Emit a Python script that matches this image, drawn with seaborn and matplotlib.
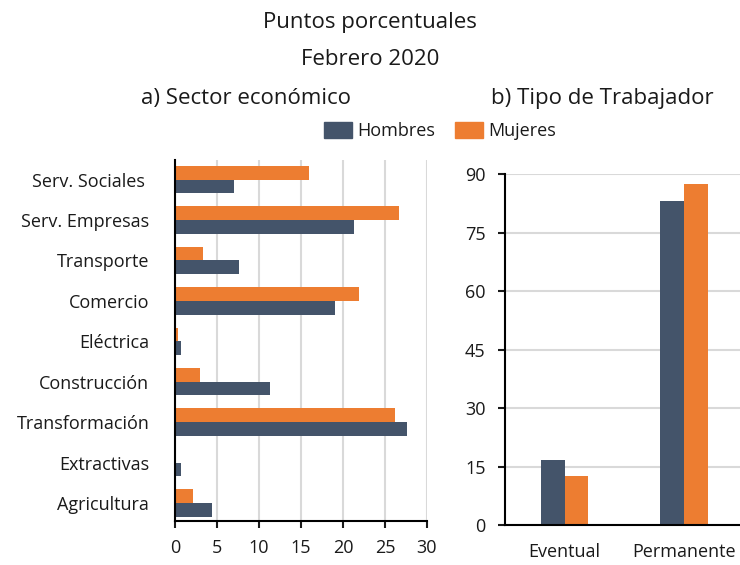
import pandas as pd
import numpy as np
import matplotlib.pyplot as plt
import seaborn as sns

# data
sectores = ['Serv. Sociales', 'Serv. Empresas', 'Transporte', 'Comercio', 'Eléctrica',
            'Construcción', 'Transformación', 'Extractivas', 'Agricultura']
sector_hombres = [7.0, 21.3, 7.6, 19.0, 0.7, 11.3, 27.6, 0.7, 4.4]
sector_mujeres = [15.9, 26.7, 3.3, 21.9, 0.4, 3.0, 26.2, 0.05, 2.2]

tipos = ['Eventual', 'Permanente']
tipo_hombres = [16.6, 83.2]
tipo_mujeres = [12.5, 87.4]

colores = {'Hombres': '#44546A', 'Mujeres': '#ED7D31'}

df_sec = pd.DataFrame({'Sector': sectores * 2,
                       'Valor': sector_hombres + sector_mujeres,
                       'Sexo': ['Hombres'] * len(sectores) + ['Mujeres'] * len(sectores)})
df_tipo = pd.DataFrame({'Tipo': tipos * 2,
                        'Valor': tipo_hombres + tipo_mujeres,
                        'Sexo': ['Hombres'] * len(tipos) + ['Mujeres'] * len(tipos)})

sns.set_style('white')
plt.rcParams['font.family'] = ['Open Sans', 'DejaVu Sans']
plt.rcParams['text.color'] = '#1a1a1a'

fig = plt.figure(figsize=(7.4, 5.65), dpi=100)
ax1 = fig.add_axes([0.2365, 0.0775, 0.3405, 0.639])
ax2 = fig.add_axes([0.6824, 0.0705, 0.3176, 0.621])

# a) sector economico
sns.barplot(data=df_sec, y='Sector', x='Valor', hue='Sexo', hue_order=['Mujeres', 'Hombres'],
            order=sectores, palette=colores, orient='h', width=0.68, saturation=1,
            linewidth=0, ax=ax1, legend=False)
ax1.set_xlim(0, 30)
ax1.set_xticks(range(0, 31, 5))
ax1.set_ylim(8.45, -0.48)
ax1.set_yticks(range(len(sectores)))
ax1.set_yticklabels([s + ' ' if s == 'Serv. Sociales' else s for s in sectores])
ax1.set_xlabel('')
ax1.set_ylabel('')
ax1.grid(axis='x', color='#d9d9d9', linewidth=1.5)
ax1.set_axisbelow(True)
for s in ['top', 'right']:
    ax1.spines[s].set_visible(False)
for s in ['left', 'bottom']:
    ax1.spines[s].set_color('black')
    ax1.spines[s].set_linewidth(1.5)
ax1.tick_params(axis='x', bottom=True, length=5, width=1.5, labelsize=13, pad=8, colors='#1a1a1a')
ax1.tick_params(axis='y', left=False, labelsize=13, pad=15, colors='#1a1a1a')

# b) tipo de trabajador
sns.barplot(data=df_tipo, x='Tipo', y='Valor', hue='Sexo', hue_order=['Hombres', 'Mujeres'],
            order=tipos, palette=colores, width=0.4, saturation=1, linewidth=0,
            ax=ax2, legend=False)
ax2.set_ylim(0, 90)
ax2.set_yticks(range(0, 91, 15))
ax2.set_xlim(-0.5, 1.47)
ax2.set_xlabel('')
ax2.set_ylabel('')
ax2.grid(axis='y', color='#d9d9d9', linewidth=1.5)
ax2.set_axisbelow(True)
for s in ['top', 'right']:
    ax2.spines[s].set_visible(False)
for s in ['left', 'bottom']:
    ax2.spines[s].set_color('black')
    ax2.spines[s].set_linewidth(1.5)
ax2.tick_params(axis='y', left=True, length=5, width=1.5, labelsize=13, pad=9, colors='#1a1a1a')
ax2.tick_params(axis='x', bottom=False, labelsize=13, pad=9, colors='#1a1a1a')

# titles and legend
fig.text(0.5, 0.961, 'Puntos porcentuales', ha='center', va='center', fontsize=16)
fig.text(0.5, 0.894, 'Febrero 2020', ha='center', va='center', fontsize=16)
fig.text(0.333, 0.825, 'a) Sector económico', ha='center', va='center', fontsize=16)
fig.text(0.814, 0.825, 'b) Tipo de Trabajador', ha='center', va='center', fontsize=16)

handles = [plt.Rectangle((0, 0), 1, 1, color=colores[k]) for k in ['Hombres', 'Mujeres']]
fig.legend(handles, ['Hombres', 'Mujeres'], loc='center', bbox_to_anchor=(0.595, 0.768),
           ncol=2, frameon=False, fontsize=13, handlelength=1.55, handleheight=0.95,
           columnspacing=1.1, handletextpad=0.3)

fig.savefig('out.png', dpi=100)
